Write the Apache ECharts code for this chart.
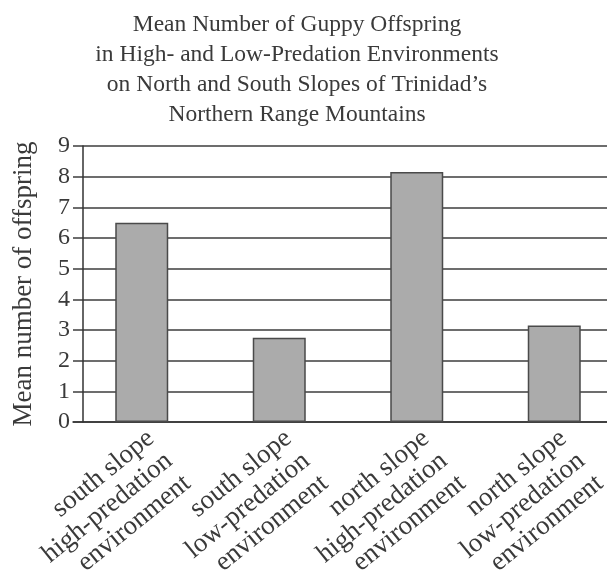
<!DOCTYPE html>
<html>
<head>
<meta charset="utf-8">
<script src="https://cdn.jsdelivr.net/npm/echarts@6/dist/echarts.min.js"></script>
<style>html,body{margin:0;padding:0;background:#fff}#c{width:607px;height:576px}</style>
</head>
<body>
<div id="c"></div>
<script>
const titleLines = [
  'Mean Number of Guppy Offspring',
  'in High- and Low-Predation Environments',
  'on North and South Slopes of Trinidad\u2019s',
  'Northern Range Mountains'
];
const categories = [
  'south slope\nhigh-predation\nenvironment',
  'south slope\nlow-predation\nenvironment',
  'north slope\nhigh-predation\nenvironment',
  'north slope\nlow-predation\nenvironment'
];
const meanOffspring = [6.5, 2.75, 8.15, 3.15];
const yAxisName = 'Mean number of offspring';
const yMin = 0, yMax = 9, yStep = 1;

const FONT = '"Liberation Serif", "DejaVu Serif", serif';
const INK = '#3a3a3a';
const TITLE_SIZE = 23.5;
const TITLE_CENTER_X = 297;

const chart = echarts.init(document.getElementById('c'));
chart.setOption({
  backgroundColor: '#ffffff',
  animation: false,
  title: {
    text: titleLines.join('\n'),
    left: TITLE_CENTER_X - 5,
    top: 5,
    padding: 5,
    textAlign: 'center',
    textStyle: { fontFamily: FONT, fontSize: TITLE_SIZE, fontWeight: 'normal', lineHeight: 30, color: INK }
  },
  grid: { left: 73, width: 550, top: 146, bottom: 154, containLabel: false, outerBoundsMode: 'none' },
  xAxis: {
    type: 'category',
    data: categories,
    axisLine: { show: true, lineStyle: { color: '#333', width: 1.5 } },
    axisTick: { show: false },
    axisLabel: {
      interval: 0,
      rotate: 39,
      align: 'right',
      verticalAlign: 'top',
      margin: 2,
      color: INK,
      fontFamily: FONT,
      fontSize: 27,
      lineHeight: 29
    }
  },
  yAxis: {
    type: 'value',
    min: yMin, max: yMax, interval: yStep,
    offset: -10,
    name: yAxisName,
    nameLocation: 'middle',
    nameGap: 46,
    nameTextStyle: { fontFamily: FONT, fontSize: 27, color: INK },
    axisLine: { show: true, lineStyle: { color: '#333', width: 1.5 } },
    axisTick: { show: false },
    axisLabel: { margin: 13, color: INK, fontFamily: FONT, fontSize: 24 },
    splitLine: { show: true, lineStyle: { color: '#3c3c3c', width: 1.5 } }
  },
  series: [{
    type: 'bar',
    data: meanOffspring,
    barWidth: 53,
    itemStyle: { color: '#ababab', borderColor: '#4a4a4a', borderWidth: 1.5 }
  }]
});
</script>
</body>
</html>
